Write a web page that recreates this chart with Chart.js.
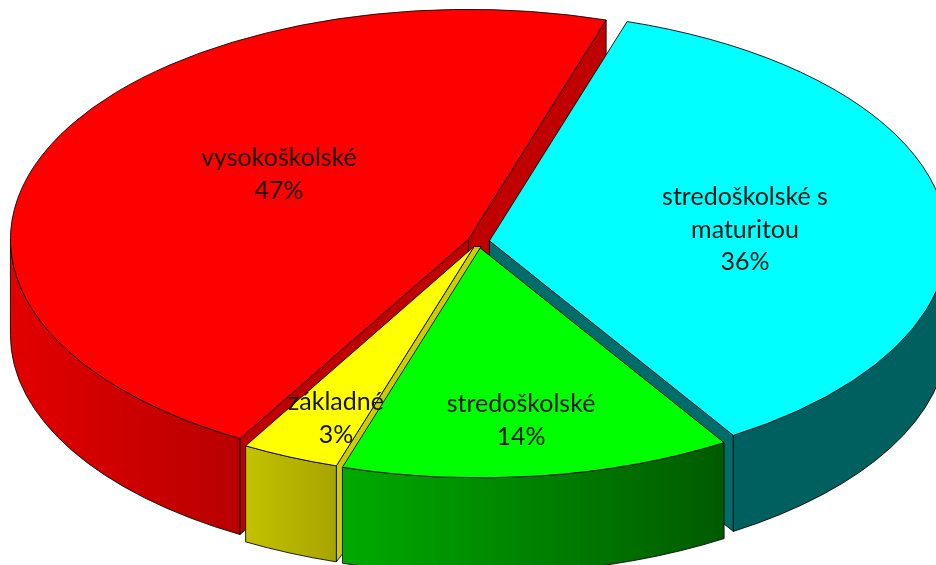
<!DOCTYPE html>
<html>
<head>
<meta charset="utf-8">
<script src="https://cdn.jsdelivr.net/npm/chart.js@4"></script>
<style>
  html, body { margin: 0; background: #fff; }
  canvas { display: block; }
</style>
</head>
<body>
<canvas id="pieChart" width="936" height="565"></canvas>
<script>
const categories = ['stredoškolské s maturitou', 'stredoškolské', 'základné', 'vysokoškolské'];
const shares = [36.2, 13.8, 3.45, 46.55];
const topColors = ['#00ffff', '#00ff00', '#ffff00', '#ff0000'];
const labelLines = [['stredoškolské s', 'maturitou'], ['stredoškolské'], ['základné'], ['vysokoškolské']];

const tilt = 0.502;
const depth = 96;
const explode = [11, 13, 11, 11];
const outline = 'rgba(10,10,10,0.9)';
const labelFont = '25px Lato';
const labelAnchors = [[745, 197], [521, 404], [336, 402], [279, 158]];

// side colours per slice: wall gradient left/right, colour of the cut face
const sideLeft = ['#006060', '#00aa00', '#c2c200', '#e20000'];
const sideRight = ['#006060', '#005a00', '#a8a400', '#b80000'];
const cutFace = ['#006c6c', null, '#cccc00', '#c00000'];

function sliceOffset(arc, i) {
  const mid = (arc.startAngle + arc.endAngle) / 2;
  return { dx: Math.cos(mid) * explode[i], dy: Math.sin(mid) * explode[i] * tilt };
}

function rimPoint(arc, off, angle) {
  return {
    x: arc.x + off.dx + Math.cos(angle) * arc.outerRadius,
    y: arc.y + off.dy + Math.sin(angle) * arc.outerRadius * tilt
  };
}

function fillAndStroke(ctx, color) {
  ctx.fillStyle = color;
  ctx.fill();
  ctx.strokeStyle = outline;
  ctx.lineWidth = 1;
  ctx.stroke();
}

function drawOuterWall(ctx, arc, off, i) {
  const a0 = Math.max(arc.startAngle, 0);
  const a1 = Math.min(arc.endAngle, Math.PI);
  if (a1 <= a0) return;
  const cx = arc.x + off.dx;
  const cy = arc.y + off.dy;
  const rx = arc.outerRadius;
  const ry = rx * tilt;
  const xa = cx + Math.cos(a0) * rx;
  const xb = cx + Math.cos(a1) * rx;
  const grad = ctx.createLinearGradient(xb, 0, xa, 0);
  grad.addColorStop(0, sideLeft[i]);
  grad.addColorStop(1, sideRight[i]);
  ctx.beginPath();
  ctx.ellipse(cx, cy, rx, ry, 0, a0, a1);
  ctx.ellipse(cx, cy + depth, rx, ry, 0, a1, a0, true);
  ctx.closePath();
  fillAndStroke(ctx, grad);
}

function drawCutFace(ctx, arc, off, angle, i) {
  const apex = { x: arc.x + off.dx, y: arc.y + off.dy };
  const rim = rimPoint(arc, off, angle);
  ctx.beginPath();
  ctx.moveTo(apex.x, apex.y);
  ctx.lineTo(rim.x, rim.y);
  ctx.lineTo(rim.x, rim.y + depth);
  ctx.lineTo(apex.x, apex.y + depth);
  ctx.closePath();
  fillAndStroke(ctx, cutFace[i]);
}

// the yellow slice shows a narrow face along its right edge
function drawNarrowFace(ctx, arc, off, i) {
  const apex = { x: arc.x + off.dx, y: arc.y + off.dy };
  const rim = rimPoint(arc, off, arc.startAngle);
  ctx.beginPath();
  ctx.moveTo(apex.x, apex.y);
  ctx.lineTo(rim.x, rim.y);
  ctx.lineTo(rim.x, rim.y + depth);
  ctx.lineTo(rim.x + 7, rim.y + depth - 9);
  ctx.lineTo(apex.x + 7, apex.y);
  ctx.closePath();
  fillAndStroke(ctx, cutFace[i]);
}

function drawTop(ctx, arc, off) {
  ctx.save();
  ctx.translate(arc.x + off.dx, arc.y + off.dy);
  ctx.scale(1, tilt);
  ctx.translate(-arc.x, -arc.y);
  arc.draw(ctx);
  ctx.restore();

  ctx.beginPath();
  ctx.moveTo(arc.x + off.dx, arc.y + off.dy);
  ctx.ellipse(arc.x + off.dx, arc.y + off.dy, arc.outerRadius, arc.outerRadius * tilt, 0, arc.startAngle, arc.endAngle);
  ctx.closePath();
  ctx.strokeStyle = outline;
  ctx.lineWidth = 1;
  ctx.stroke();
}

const pie3d = {
  id: 'pie3d',
  beforeDatasetDraw(chart, args) {
    const ctx = chart.ctx;
    const arcs = args.meta.data;
    // back to front: red, cyan, yellow, green
    [3, 0, 2, 1].forEach(i => {
      const arc = arcs[i];
      const off = sliceOffset(arc, i);
      if (i === 3) {
        drawCutFace(ctx, arc, off, arc.endAngle, i);
        drawCutFace(ctx, arc, off, arc.startAngle, i);
      }
      if (i === 0) drawCutFace(ctx, arc, off, arc.endAngle, i);
      if (i === 2) drawNarrowFace(ctx, arc, off, i);
      drawOuterWall(ctx, arc, off, i);
      drawTop(ctx, arc, off);
    });

    ctx.save();
    ctx.font = labelFont;
    ctx.fillStyle = '#141414';
    ctx.textAlign = 'center';
    ctx.textBaseline = 'middle';
    categories.forEach((c, i) => {
      const lines = labelLines[i].concat(Math.round(shares[i]) + '%');
      lines.forEach((line, n) => {
        ctx.fillText(line, labelAnchors[i][0], labelAnchors[i][1] + n * 32.5);
      });
    });
    ctx.restore();
    return false;
  }
};

new Chart(document.getElementById('pieChart').getContext('2d'), {
  type: 'pie',
  data: {
    labels: categories,
    datasets: [{
      data: shares,
      backgroundColor: topColors,
      borderWidth: 0,
      hoverOffset: 0
    }]
  },
  options: {
    responsive: false,
    animation: false,
    events: [],
    rotation: 17.5,
    radius: 458,
    layout: { padding: { left: 21, bottom: 82 } },
    plugins: {
      legend: { display: false },
      tooltip: { enabled: false }
    }
  },
  plugins: [pie3d]
});
</script>
</body>
</html>
